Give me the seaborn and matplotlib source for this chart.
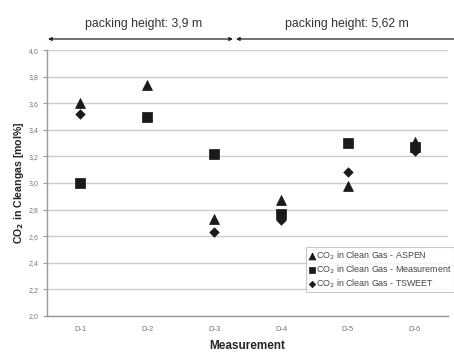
import matplotlib
matplotlib.use("Agg")
import matplotlib.pyplot as plt
import seaborn as sns
import pandas as pd
from matplotlib.ticker import FixedLocator

categories = ["D-1", "D-2", "D-3", "D-4", "D-5", "D-6"]
aspen = [3.60, 3.74, 2.73, 2.87, 2.98, 3.31]
measurement = [3.00, 3.50, 3.22, 2.77, 3.30, 3.27]
tsweet = [3.52, None, 2.63, 2.72, 3.08, 3.24]
series_names = ["CO$_2$ in Clean Gas - ASPEN",
                "CO$_2$ in Clean Gas - Measurement",
                "CO$_2$ in Clean Gas - TSWEET"]
yticks = [2.0, 2.2, 2.4, 2.6, 2.8, 3.0, 3.2, 3.4, 3.6, 3.8, 4.0]

rows = []
for name, vals in zip(series_names, [aspen, measurement, tsweet]):
    for i, (c, v) in enumerate(zip(categories, vals)):
        if v is not None:
            rows.append({"Measurement": c, "xpos": i, "CO2": v, "Series": name})
df = pd.DataFrame(rows)

sns.set_style("white")
plt.rcParams['font.family'] = ['Liberation Sans', 'DejaVu Sans']

fig = plt.figure(figsize=(4.54, 3.53), dpi=100)
ax = fig.add_axes([0.1035, 0.105, 0.884, 0.753])

markers = {series_names[0]: "^", series_names[1]: "s", series_names[2]: "D"}
sizes_pt = {series_names[0]: 50, series_names[1]: 42, series_names[2]: 24}
for name in series_names:
    sub = df[df["Series"] == name]
    sns.scatterplot(data=sub, x="xpos", y="CO2", marker=markers[name],
                    color="#1a1a1a", edgecolor="#1a1a1a", s=sizes_pt[name],
                    ax=ax, label=name, zorder=3)

ax.set_xlim(-0.5, 5.5)
ax.set_ylim(2.0, 4.0)
ax.set_yticks(yticks)
ax.set_yticklabels([f"{t:.1f}".replace(".", ",") for t in yticks],
                   fontsize=5, color="#777777")
ax.set_xticks(range(len(categories)))
ax.set_xticklabels(categories, fontsize=5.5, color="#777777")
ax.xaxis.set_minor_locator(FixedLocator([i + 0.5 for i in range(-1, 6)]))
ax.tick_params(axis="x", which="major", length=0, pad=7)
ax.tick_params(axis="x", which="minor", length=3, color="#999999")
ax.tick_params(axis="y", which="major", length=3, color="#999999", pad=3, left=True)
ax.yaxis.grid(True, color="#cccccc", linewidth=1.0)
ax.set_axisbelow(True)
for s in ["top", "right"]:
    ax.spines[s].set_visible(False)
for s in ["left", "bottom"]:
    ax.spines[s].set_color("#999999")
    ax.spines[s].set_linewidth(1.0)

ax.set_xlabel("Measurement", fontsize=8.5, fontweight="bold", labelpad=5)
ax.set_ylabel("CO$_\\mathbf{2}$ in Cleangas [mol%]", fontsize=7.6, fontweight="bold", labelpad=2)

leg = ax.legend(loc="lower right", bbox_to_anchor=(1.013, 0.09), borderaxespad=0,
                fontsize=6.4,
                frameon=True, fancybox=False, edgecolor="#bbbbbb",
                handletextpad=0.0, borderpad=0.25, labelspacing=0.15,
                handlelength=0.9, markerscale=0.7, labelcolor="#444444")
leg.get_frame().set_linewidth(0.8)

# packing height annotations in figure coords
y_arrow = 1 - 39 / 353
ax.annotate("", xy=(233 / 454, y_arrow), xytext=(48 / 454, y_arrow),
            xycoords="figure fraction", textcoords="figure fraction",
            arrowprops=dict(arrowstyle="<|-|>", color="#222222", lw=0.9,
                            mutation_scale=5, shrinkA=0, shrinkB=0),
            annotation_clip=False)
ax.annotate("", xy=(460 / 454, y_arrow), xytext=(236 / 454, y_arrow),
            xycoords="figure fraction", textcoords="figure fraction",
            arrowprops=dict(arrowstyle="<|-", color="#222222", lw=0.9,
                            mutation_scale=5, shrinkA=0, shrinkB=0),
            annotation_clip=False)
fig.text(144 / 454, 1 - 24 / 353, "packing height: 3,9 m", ha="center", va="center",
         fontsize=8.8, color="#333333")
fig.text(347 / 454, 1 - 24 / 353, "packing height: 5,62 m", ha="center", va="center",
         fontsize=8.8, color="#333333")

fig.savefig("out.png", dpi=100)
